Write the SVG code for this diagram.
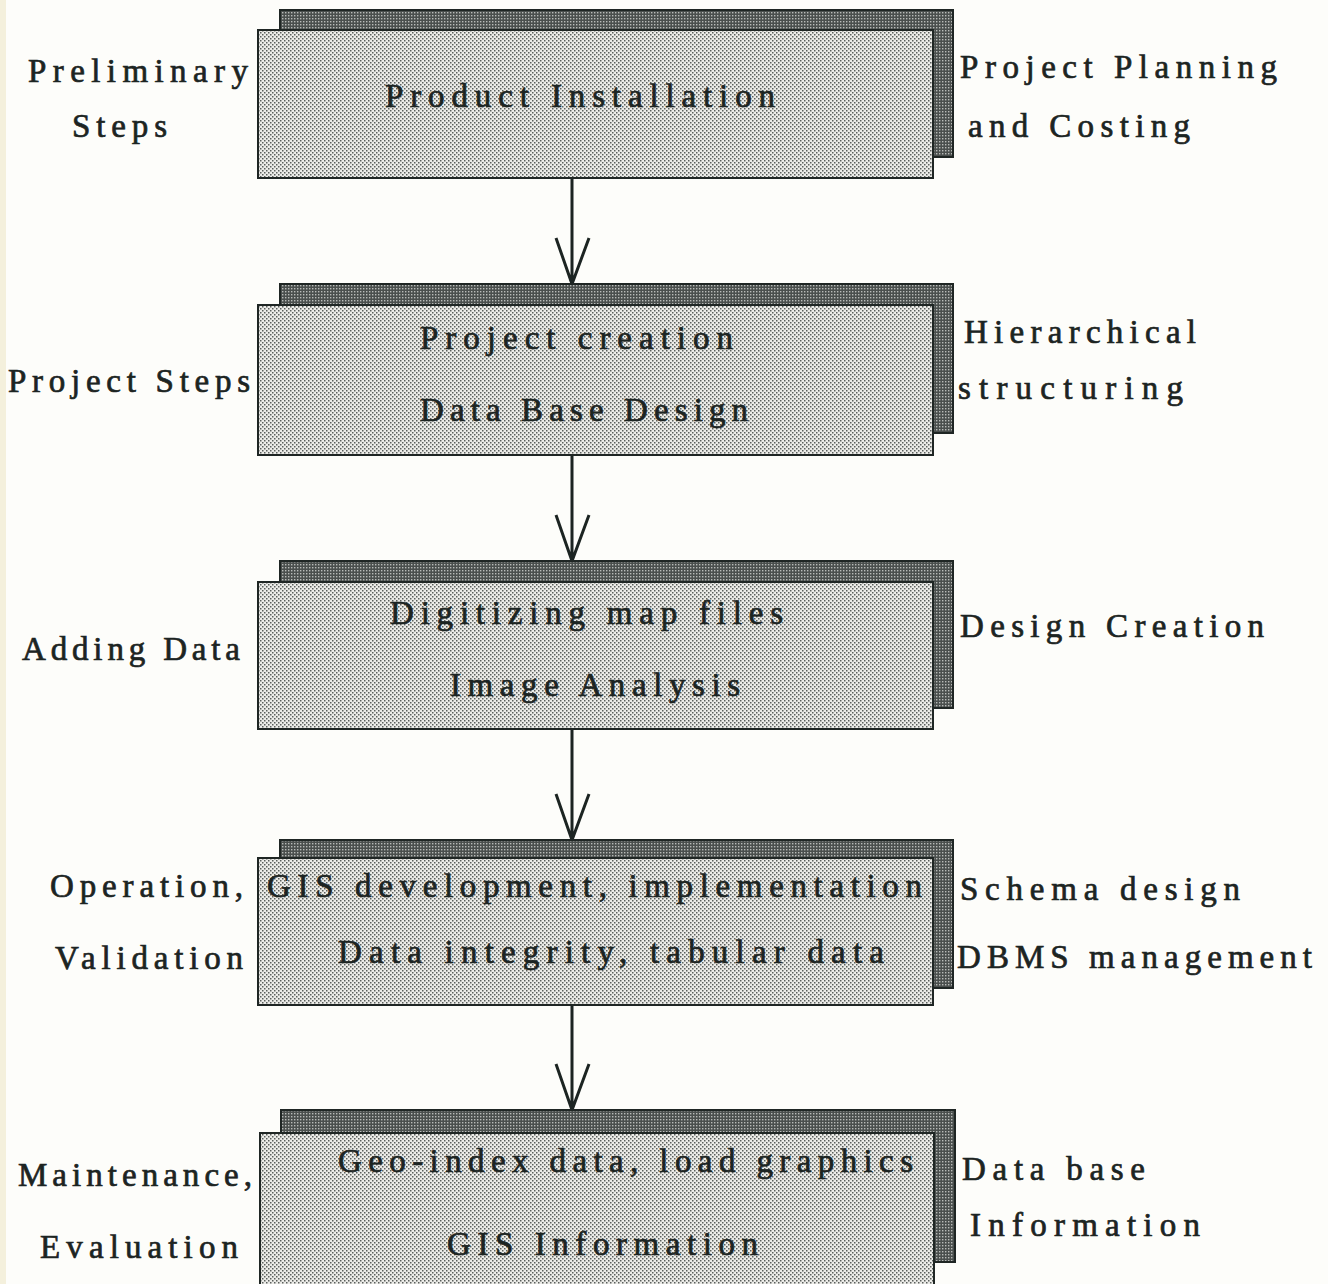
<svg xmlns="http://www.w3.org/2000/svg" width="1328" height="1284" viewBox="0 0 1328 1284">
<defs>
<pattern id="dots" width="4" height="4" patternUnits="userSpaceOnUse">
<rect width="4" height="4" fill="#ecece8"/>
<rect x="0" y="0" width="1.5" height="1.5" fill="#5a5f5c"/>
<rect x="2" y="2" width="1.5" height="1.5" fill="#5a5f5c"/>
</pattern>
<pattern id="dark" width="3" height="3" patternUnits="userSpaceOnUse">
<rect width="3" height="3" fill="#4a4f4d"/>
<rect x="0" y="0" width="1.4" height="1.4" fill="#b8bbb8"/>
</pattern>
</defs>
<style>
.front{fill:url(#dots);stroke:#1f2624;stroke-width:2}
.shadow{fill:url(#dark);stroke:#1f2624;stroke-width:2}
.t{font-family:"Liberation Serif","DejaVu Serif",serif;font-size:33px;fill:#1c2422;stroke:#1c2422;stroke-width:0.7}
.c{stroke:#1c2422;stroke-width:3;fill:none}
</style>
<rect width="1328" height="1284" fill="#fdfdfa"/>
<rect width="6" height="1284" fill="#f4f0dc"/>

<g id="connectors">
<path class="c" d="M572 178V284M556 238L572 284L589 238"/>
<path class="c" d="M572 455V561M556 515L572 561L589 515"/>
<path class="c" d="M572 729V840M556 794L572 840L589 794"/>
<path class="c" d="M572 1005V1110M556 1064L572 1110L589 1064"/>
</g>

<g id="node1">
<rect class="shadow" x="280" y="10" width="673" height="147"/>
<rect class="front" x="258" y="30" width="675" height="148"/>
<text class="t" x="385" y="107" textLength="390" lengthAdjust="spacing">Product Installation</text>
<text class="t" x="28" y="82" textLength="220" lengthAdjust="spacing">Preliminary</text>
<text class="t" x="72" y="137" textLength="95" lengthAdjust="spacing">Steps</text>
<text class="t" x="960" y="78" textLength="317" lengthAdjust="spacing">Project Planning</text>
<text class="t" x="968" y="137" textLength="222" lengthAdjust="spacing">and Costing</text>
</g>

<g id="node2">
<rect class="shadow" x="280" y="284" width="673" height="149"/>
<rect class="front" x="258" y="305" width="675" height="150"/>
<text class="t" x="420" y="349" textLength="313" lengthAdjust="spacing">Project creation</text>
<text class="t" x="420" y="421" textLength="328" lengthAdjust="spacing">Data Base Design</text>
<text class="t" x="8" y="392" textLength="242" lengthAdjust="spacing">Project Steps</text>
<text class="t" x="964" y="343" textLength="232" lengthAdjust="spacing">Hierarchical</text>
<text class="t" x="958" y="399" textLength="225" lengthAdjust="spacing">structuring</text>
</g>

<g id="node3">
<rect class="shadow" x="280" y="561" width="673" height="147"/>
<rect class="front" x="258" y="582" width="675" height="147"/>
<text class="t" x="390" y="624" textLength="393" lengthAdjust="spacing">Digitizing map files</text>
<text class="t" x="450" y="696" textLength="290" lengthAdjust="spacing">Image Analysis</text>
<text class="t" x="22" y="660" textLength="218" lengthAdjust="spacing">Adding Data</text>
<text class="t" x="960" y="637" textLength="304" lengthAdjust="spacing">Design Creation</text>
</g>

<g id="node4">
<rect class="shadow" x="280" y="840" width="673" height="148"/>
<rect class="front" x="258" y="858" width="675" height="147"/>
<text class="t" x="267" y="897" textLength="655" lengthAdjust="spacing">GIS development, implementation</text>
<text class="t" x="338" y="963" textLength="546" lengthAdjust="spacing">Data integrity, tabular data</text>
<text class="t" x="50" y="897" textLength="193" lengthAdjust="spacing">Operation,</text>
<text class="t" x="55" y="969" textLength="188" lengthAdjust="spacing">Validation</text>
<text class="t" x="960" y="900" textLength="280" lengthAdjust="spacing">Schema design</text>
<text class="t" x="957" y="968" textLength="355" lengthAdjust="spacing">DBMS management</text>
</g>

<g id="node5">
<rect class="shadow" x="281" y="1110" width="674" height="152"/>
<rect class="front" x="260" y="1133" width="674" height="156"/>
<text class="t" x="338" y="1172" textLength="575" lengthAdjust="spacing">Geo-index data, load graphics</text>
<text class="t" x="447" y="1255" textLength="311" lengthAdjust="spacing">GIS Information</text>
<text class="t" x="18" y="1186" textLength="234" lengthAdjust="spacing">Maintenance,</text>
<text class="t" x="40" y="1258" textLength="198" lengthAdjust="spacing">Evaluation</text>
<text class="t" x="962" y="1180" textLength="183" lengthAdjust="spacing">Data base</text>
<text class="t" x="970" y="1236" textLength="230" lengthAdjust="spacing">Information</text>
</g>
</svg>
